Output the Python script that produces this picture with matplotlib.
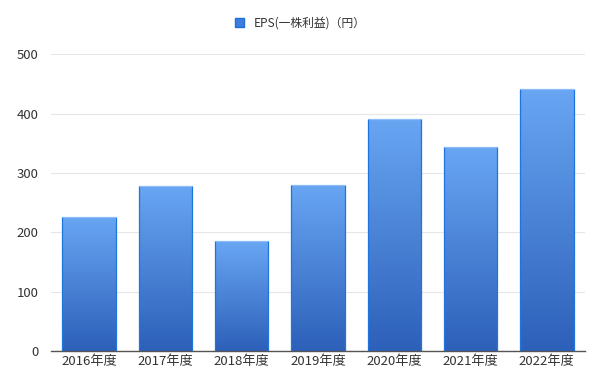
import numpy as np
import matplotlib
matplotlib.use('Agg')
import matplotlib.pyplot as plt
from matplotlib.colors import LinearSegmentedColormap
from matplotlib.patches import Patch

plt.rcParams['font.family'] = ['Noto Sans CJK JP', 'DejaVu Sans']

# Data
years = ['2016年度', '2017年度', '2018年度', '2019年度', '2020年度', '2021年度', '2022年度']
eps = [226, 278, 185, 280, 391, 343, 441]
series_name = 'EPS(一株利益)（円）'
y_ticks = [0, 100, 200, 300, 400, 500]

fig = plt.figure(figsize=(6, 3.84), dpi=100)
ax = fig.add_axes([0.085, 0.086, 0.89, 0.773])

# gradient: lighter at top, darker at bottom
cmap = LinearSegmentedColormap.from_list('blues', ['#2d60b9', '#68a6f3'])
grad = np.linspace(0, 1, 256).reshape(-1, 1)

x = np.arange(len(years))
bars = ax.bar(x, eps, width=0.7, color='none', edgecolor='none', zorder=3)
for b in bars:
    x0, y0 = b.get_x(), b.get_y()
    w, h = b.get_width(), b.get_height()
    im = ax.imshow(grad, extent=[x0, x0 + w, y0, y0 + h], origin='lower',
                   cmap=cmap, aspect='auto', zorder=2)
    im.set_clip_path(b)
    # brighter side edges, pale top edge like the original
    ax.vlines([x0, x0 + w], y0, y0 + h, color='#1f74e0', linewidth=0.9, zorder=3)
    ax.hlines(y0 + h, x0, x0 + w, color='#8dbcf6', linewidth=0.9, zorder=3)

ax.set_xlim(-0.5, len(years) - 0.5)
ax.set_ylim(0, 500)
ax.set_yticks(y_ticks)
ax.set_xticks(x)
ax.set_xticklabels(years)

ax.grid(axis='y', color='#e6e6e6', linewidth=0.8, zorder=0)
for s in ['top', 'right', 'left']:
    ax.spines[s].set_visible(False)
ax.spines['bottom'].set_color('#555555')
ax.spines['bottom'].set_linewidth(1.0)
ax.spines['bottom'].set_zorder(4)
ax.tick_params(axis='both', length=0, labelsize=9.5, colors='#333333')
ax.tick_params(axis='y', pad=9)
ax.tick_params(axis='x', pad=3)

handle = Patch(facecolor='#3f7ee0', edgecolor='#1f6fd6')
fig.legend([handle], [series_name], loc='upper center', bbox_to_anchor=(0.5, 0.985),
           frameon=False, fontsize=8.5, handlelength=0.8, handleheight=0.8,
           handletextpad=0.8, labelcolor='#333333')

fig.savefig('out.png', dpi=100)
